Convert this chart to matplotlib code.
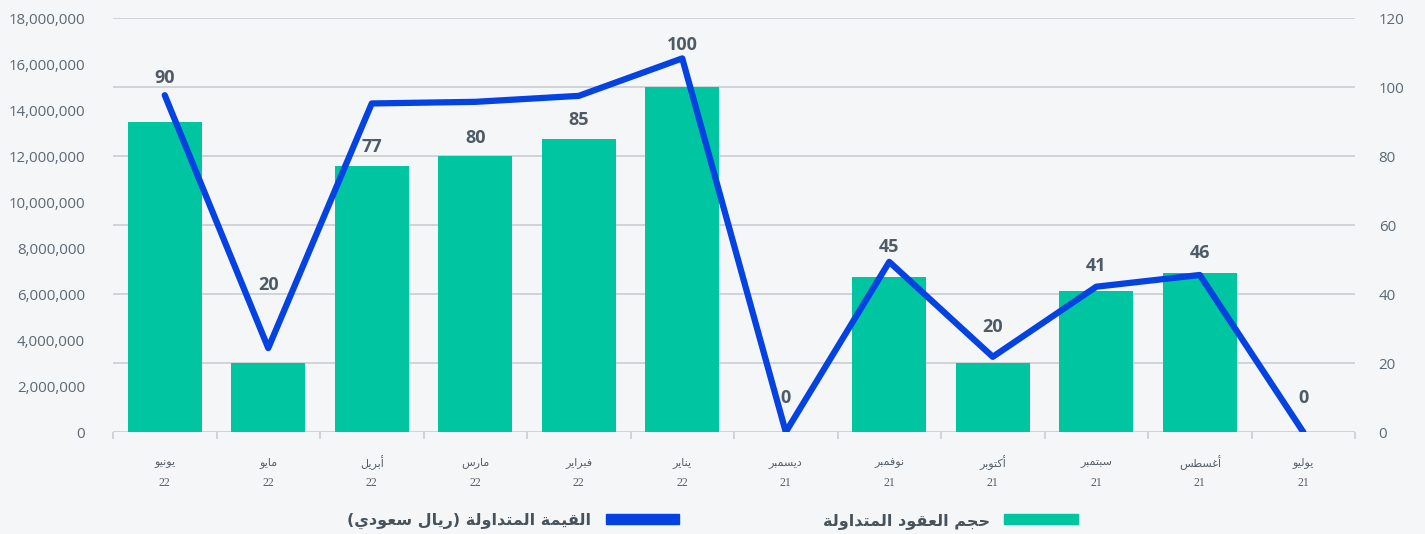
import numpy as np
import matplotlib
matplotlib.use("Agg")
import matplotlib.pyplot as plt
from matplotlib.patches import Patch
from matplotlib.ticker import FuncFormatter, MultipleLocator

# --- data ---
months = ["يونيو", "مايو", "أبريل", "مارس", "فبراير", "يناير",
          "ديسمبر", "نوفمبر", "أكتوبر", "سبتمبر", "أغسطس", "يوليو"]
years = ["22", "22", "22", "22", "22", "22", "21", "21", "21", "21", "21", "21"]
contracts = [90, 20, 77, 80, 85, 100, 0, 45, 20, 41, 46, 0]
traded_value = [14650000, 3650000, 14290000, 14360000, 14620000, 16250000,
                0, 7400000, 3270000, 6320000, 6830000, 0]
legend_bars = "حجم العقود المتداولة"
legend_line = "القيمة المتداولة (ريال سعودي)"

# label lift above bar top (px), as placed in the reference
label_lift = [44, 78, 19, 18, 19, 42, 34, 30, 36, 25, 20, 34]

TEAL = "#00c5a1"
BLUE = "#0542e2"
BG = "#f4f6f8"
GRID = "#c9cdd2"
TXT = "#5b6873"

# --- tiny arabic shaper (matplotlib has no RTL/joining support) ---
_letters = "ءآأؤإئابةتثجحخدذرزسشصضطظعغفقكلمنهوىي"
_nforms = [1, 2, 2, 2, 2, 4, 2, 4, 2, 4, 4, 4, 4, 4, 2, 2, 2, 2, 4, 4, 4, 4,
           4, 4, 4, 4, 4, 4, 4, 4, 4, 4, 4, 2, 2, 4]
FORMS = {}
_cp = 0xFE80
for ch, n in zip(_letters, _nforms):
    FORMS[ch] = [chr(_cp + k) for k in range(n)]
    _cp += n


def ar(s):
    out = []
    for i, c in enumerate(s):
        if c not in FORMS:
            out.append(c)
            continue
        f = FORMS[c]
        prev = s[i - 1] if i > 0 else ""
        nxt = s[i + 1] if i + 1 < len(s) else ""
        jp = prev in FORMS and len(FORMS[prev]) == 4
        jn = len(f) == 4 and nxt in FORMS
        if jp and jn:
            out.append(f[3])
        elif jp:
            out.append(f[1] if len(f) > 1 else f[0])
        elif jn:
            out.append(f[2])
        else:
            out.append(f[0])
    vis = "".join(out)[::-1]
    return vis.translate(str.maketrans("()", ")("))


plt.rcParams["font.family"] = ["Open Sans", "DejaVu Sans"]

fig = plt.figure(figsize=(14.25, 5.34), dpi=100, facecolor=BG)
ax = fig.add_axes([0.0793, 0.191, 0.8716, 0.775], facecolor=BG)
ax2 = ax.twinx()
x = np.arange(len(months))

# bars on the 0-120 scale (shown on the right)
ax.bar(x, contracts, width=0.715, color=TEAL, zorder=2)
ax.set_ylim(0, 120)
ax.set_xlim(-0.5, len(months) - 0.5)
ax.yaxis.set_major_locator(MultipleLocator(20))
ax.yaxis.tick_right()
ax.tick_params(axis="y", length=0, pad=17, labelsize=10.8, labelcolor=TXT)
ax.grid(axis="y", color=GRID, lw=1.2, zorder=0)
ax.set_axisbelow(True)
for s in ax.spines.values():
    s.set_visible(False)

# category boundary ticks
ax.set_xticks(x)
ax.set_xticklabels([])
ax.set_xticks(np.arange(-0.5, len(months)), minor=True)
ax.tick_params(axis="x", which="major", length=0)
ax.tick_params(axis="x", which="minor", length=5, color=GRID, width=1.2)

# line on the 0-18M scale (shown on the left)
ax2.plot(x, traded_value, color=BLUE, lw=4.5, solid_capstyle="round",
         solid_joinstyle="round", zorder=3)
ax2.set_ylim(0, 18000000)
ax2.yaxis.set_major_locator(MultipleLocator(2000000))
ax2.yaxis.tick_left()
ax2.yaxis.set_major_formatter(FuncFormatter(lambda v, p: f"{int(v):,}"))
ax2.tick_params(axis="y", length=0, pad=20, labelsize=10.8, labelcolor=TXT)
for s in ax2.spines.values():
    s.set_visible(False)

# value labels above bars
for xi, v, lift in zip(x, contracts, label_lift):
    ax2.annotate(str(v), xy=(xi, v), xycoords=ax.transData,
                 xytext=(0, lift * 0.72), textcoords="offset points",
                 ha="center", va="center", fontsize=13, fontweight="bold",
                 color="#4e5b66", zorder=5)

# two-line category labels: month, then year
for xi, m, y in zip(x, months, years):
    ax.annotate(ar(m), xy=(xi, 0), xycoords=("data", "axes fraction"),
                xytext=(0, -22), textcoords="offset points", ha="center",
                va="center", fontsize=8, color="#555f68",
                family=["DejaVu Sans"])
    ax.annotate(y, xy=(xi, 0), xycoords=("data", "axes fraction"),
                xytext=(0, -37), textcoords="offset points", ha="center",
                va="center", fontsize=8.5, color="#555f68",
                family=["Liberation Serif", "DejaVu Serif"])

# RTL legend: text left of swatch
handles = [Patch(color=BLUE), Patch(color=TEAL)]
labels = [ar(legend_line), ar(legend_bars)]
fig.legend(handles, labels, loc="center", bbox_to_anchor=(0.5, 0.025),
           ncol=2, frameon=False, markerfirst=False, handlelength=4.6,
           handleheight=0.6, handletextpad=0.9, columnspacing=9,
           prop={"family": "DejaVu Sans", "weight": "bold", "size": 11.5},
           labelcolor="#46525c")

fig.savefig("out.png", dpi=100, facecolor=BG)
